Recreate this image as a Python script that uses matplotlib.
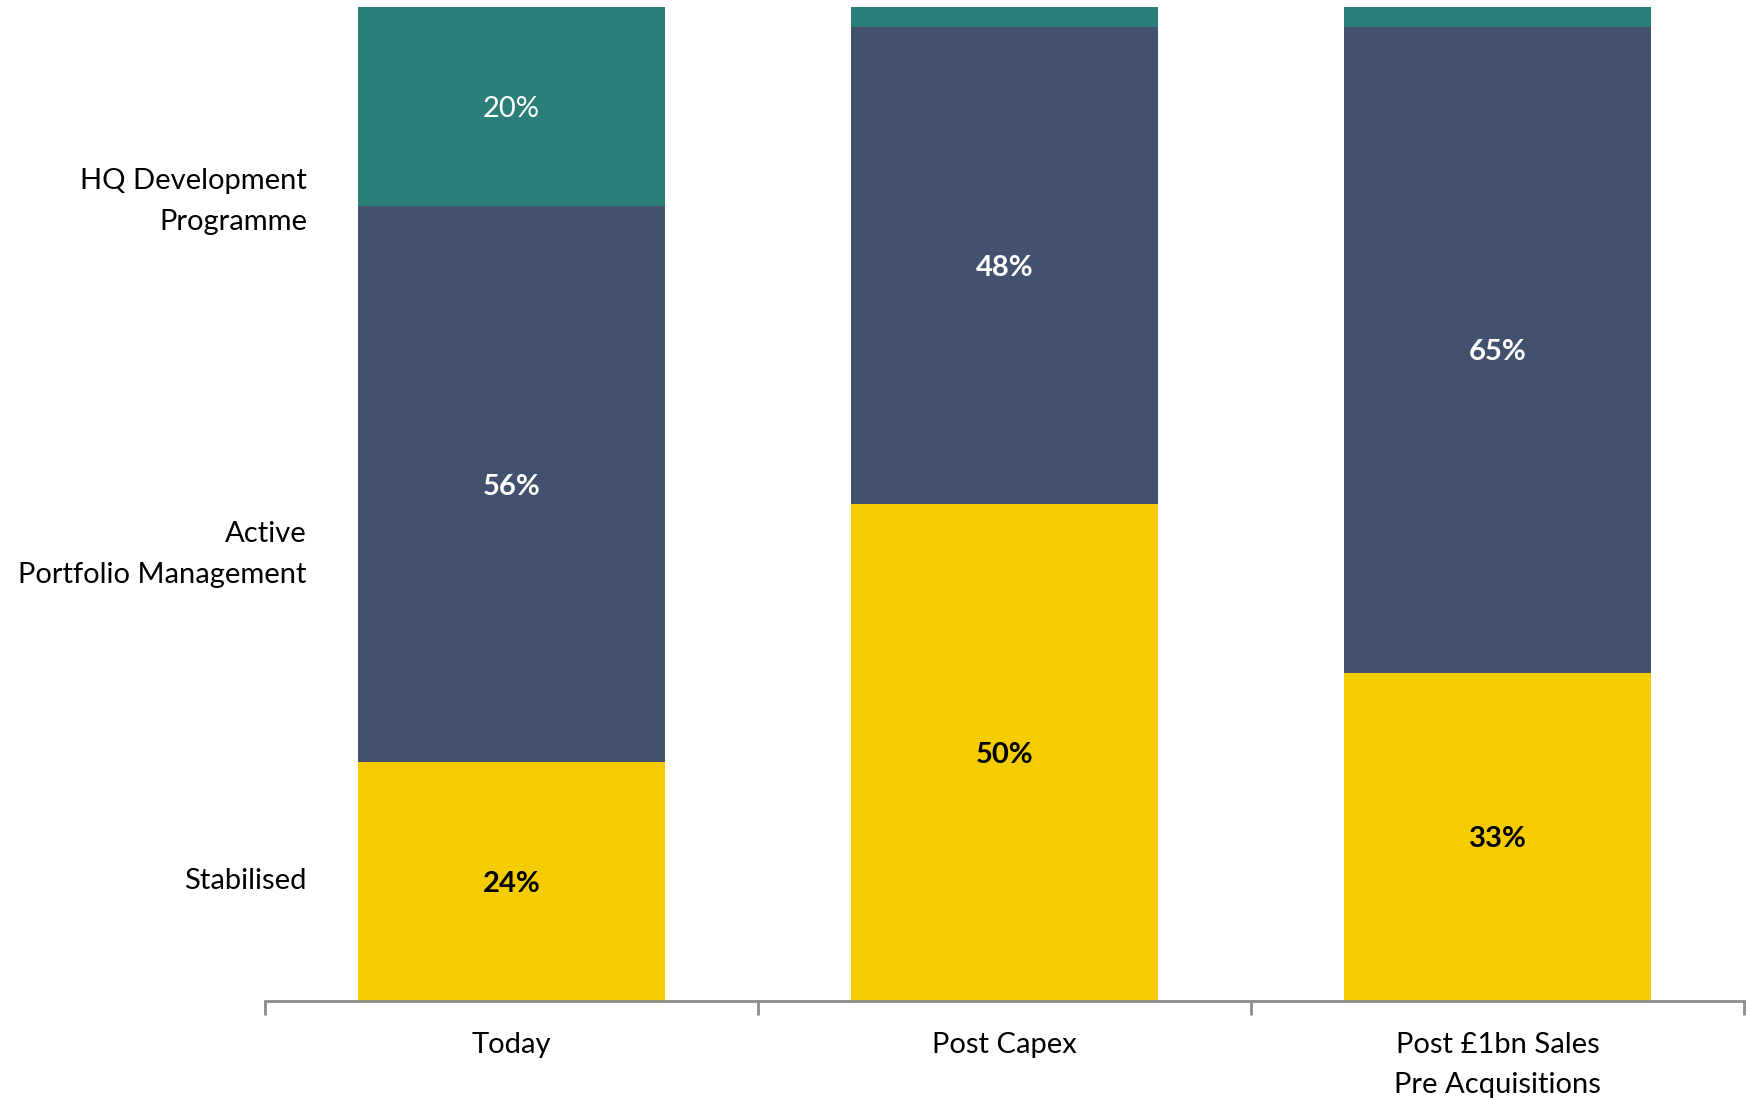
import numpy as np
import matplotlib.pyplot as plt

categories = ['Today', 'Post Capex', 'Post £1bn Sales\nPre Acquisitions']
stabilised = [24, 50, 33]
active = [56, 48, 65]
hq_dev = [20, 2, 2]
# labels shown on the chart (the 2% slices have none)
hq_labels = ['20%', '', '']
active_labels = ['56%', '48%', '65%']
stab_labels = ['24%', '50%', '33%']

row_names = ['HQ Development\nProgramme', 'Active\nPortfolio Management', 'Stabilised']
row_y = [80.4, 44.9, 12.1]

c_yellow = '#F5CC00'
c_navy = '#42526E'
c_teal = '#2A7F78'

plt.rcParams['font.family'] = ['Lato', 'DejaVu Sans']

fig = plt.figure(figsize=(17.46, 10.98), dpi=100)
ax = fig.add_axes([265 / 1746, 97 / 1098, 1479 / 1746, 994 / 1098])

x = np.arange(len(categories))
w = 0.622
stab = np.array(stabilised)
act = np.array(active)
hq = np.array(hq_dev)

ax.bar(x, stab, w, color=c_yellow)
ax.bar(x, act, w, bottom=stab, color=c_navy)
ax.bar(x, hq, w, bottom=stab + act, color=c_teal)

fs = 21
for i in range(len(x)):
    ax.text(x[i], stab[i] / 2, stab_labels[i], ha='center', va='center_baseline',
            fontsize=fs, fontweight='bold', color='black')
    ax.text(x[i], stab[i] + act[i] / 2, active_labels[i], ha='center',
            va='center_baseline', fontsize=fs, fontweight='bold', color='white')
    if hq_labels[i]:
        ax.text(x[i], stab[i] + act[i] + hq[i] / 2, hq_labels[i], ha='center',
                va='center_baseline', fontsize=fs, color='white')

for name, yy in zip(row_names, row_y):
    ax.text(-0.415, yy, name, ha='right', va='center', fontsize=fs,
            linespacing=1.7, color='black')

ax.set_xlim(-0.5, 2.5)
ax.set_ylim(0, 100)
ax.set_yticks([])
for s in ['top', 'right', 'left']:
    ax.spines[s].set_visible(False)
ax.spines['bottom'].set_color('#8C8C8C')
ax.spines['bottom'].set_linewidth(2)

ax.set_xticks(x)
ax.set_xticklabels(categories, fontsize=fs, linespacing=1.7)
ax.tick_params(axis='x', which='major', length=0, pad=22)
ax.set_xticks([-0.5, 0.5, 1.5, 2.5], minor=True)
ax.tick_params(axis='x', which='minor', length=10, width=2, color='#8C8C8C')

fig.savefig('out.png', dpi=100)
